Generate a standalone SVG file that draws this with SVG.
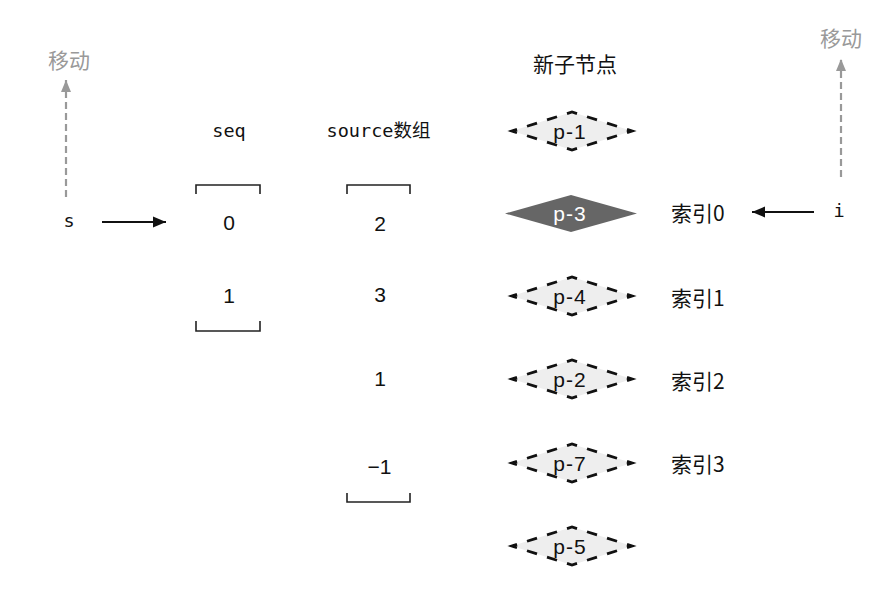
<svg xmlns="http://www.w3.org/2000/svg" width="877" height="596" viewBox="0 0 877 596">
<defs>
<style>
.mono{font-family:"DejaVu Sans Mono","Liberation Mono","Noto Sans CJK SC",monospace;font-size:18.5px;fill:#111;}
.num{font-family:"Liberation Sans",Arial,sans-serif;font-size:21px;fill:#111;}
.cjk{font-family:"Noto Sans CJK SC","Noto Sans",sans-serif;font-size:21px;fill:#111;}
.gray{fill:#999;}
.lbl{font-family:"Liberation Sans",Arial,sans-serif;font-size:21px;letter-spacing:1px;}
.dash{fill:#eeeeee;stroke:#111;stroke-width:2.8;stroke-dasharray:10.49 10.49;stroke-dashoffset:5.245;}
.brk{fill:none;stroke:#222;stroke-width:1.6;}
.arr{stroke:#111;stroke-width:2;fill:none;}
.garr{stroke:#999;stroke-width:2.2;fill:none;stroke-dasharray:7 4;}
</style>
<marker id="ah" markerUnits="userSpaceOnUse" markerWidth="14" markerHeight="12" refX="13" refY="6" orient="auto">
<path d="M0,0.5 L13,6 L0,11.5 z" fill="#111"/>
</marker>
<marker id="gah" markerUnits="userSpaceOnUse" markerWidth="13" markerHeight="12" refX="12" refY="6" orient="auto">
<path d="M0,1 L12,6 L0,11 z" fill="#999"/>
</marker>
</defs>
<rect width="877" height="596" fill="#ffffff"/>

<g id="move-left">
<text class="cjk gray" x="69" y="59" text-anchor="middle" dominant-baseline="central">移动</text>
</g>
<g id="move-right">
<text class="cjk gray" x="841" y="37" text-anchor="middle" dominant-baseline="central">移动</text>
</g>
<g id="s-label"><text class="mono" x="69" y="227" text-anchor="middle">s</text></g>
<g id="i-label"><text class="mono" x="839" y="217" text-anchor="middle">i</text></g>

<g id="seq">
<text class="mono" x="229" y="137" text-anchor="middle">seq</text>
<path class="brk" d="M196,194 V185 H260 V194"/>
<text class="num" x="229" y="230" text-anchor="middle">0</text>
<text class="num" x="229" y="302.5" text-anchor="middle">1</text>
<path class="brk" d="M196,321 V331 H260 V321"/>
</g>

<g id="source">
<text class="mono" x="378.5" y="137" text-anchor="middle">source数组</text>
<path class="brk" d="M347,194 V185 H410 V194"/>
<text class="num" x="380" y="230.5" text-anchor="middle">2</text>
<text class="num" x="380" y="301.5" text-anchor="middle">3</text>
<text class="num" x="380" y="386" text-anchor="middle">1</text>
<text class="num" x="379.5" y="474" text-anchor="middle">−1</text>
<path class="brk" d="M347,493 V502 H410 V493"/>
</g>

<g id="new-nodes-title">
<text class="cjk" x="575" y="63" text-anchor="middle" dominant-baseline="central">新子节点</text>
</g>

<g id="node-p1">
<path class="dash" d="M512,131 L572,112 L632,131 L572,150 Z"/>
<text class="lbl" x="570" y="138.5" text-anchor="middle" fill="#111">p-1</text>
</g>
<g id="node-p3">
<path d="M505,213.5 L571,195 L637,213.5 L571,232 Z" fill="#666666"/>
<text class="lbl" x="570" y="221" text-anchor="middle" fill="#ffffff">p-3</text>
</g>
<g id="node-p4">
<path class="dash" d="M512,296 L572,277 L632,296 L572,315 Z"/>
<text class="lbl" x="570" y="303.5" text-anchor="middle" fill="#111">p-4</text>
</g>
<g id="node-p2">
<path class="dash" d="M512,379 L572,360 L632,379 L572,398 Z"/>
<text class="lbl" x="570" y="386.5" text-anchor="middle" fill="#111">p-2</text>
</g>
<g id="node-p7">
<path class="dash" d="M512,463 L572,444 L632,463 L572,482 Z"/>
<text class="lbl" x="570" y="470.5" text-anchor="middle" fill="#111">p-7</text>
</g>
<g id="node-p5">
<path class="dash" d="M512,546 L572,527 L632,546 L572,565 Z"/>
<text class="lbl" x="570" y="553.5" text-anchor="middle" fill="#111">p-5</text>
</g>

<g id="index-labels">
<text class="cjk" x="671" y="212" dominant-baseline="central">索引0</text>
<text class="cjk" x="671" y="297" dominant-baseline="central">索引1</text>
<text class="cjk" x="671" y="380" dominant-baseline="central">索引2</text>
<text class="cjk" x="671" y="463" dominant-baseline="central">索引3</text>
</g>

<g id="connectors">
<line class="arr" x1="102" y1="222" x2="166" y2="222" marker-end="url(#ah)"/>
<line class="arr" x1="814" y1="212" x2="752" y2="212" marker-end="url(#ah)"/>
<line class="garr" x1="66" y1="197" x2="66" y2="80" marker-end="url(#gah)"/>
<line class="garr" x1="841" y1="177" x2="841" y2="59" marker-end="url(#gah)"/>
</g>
</svg>
